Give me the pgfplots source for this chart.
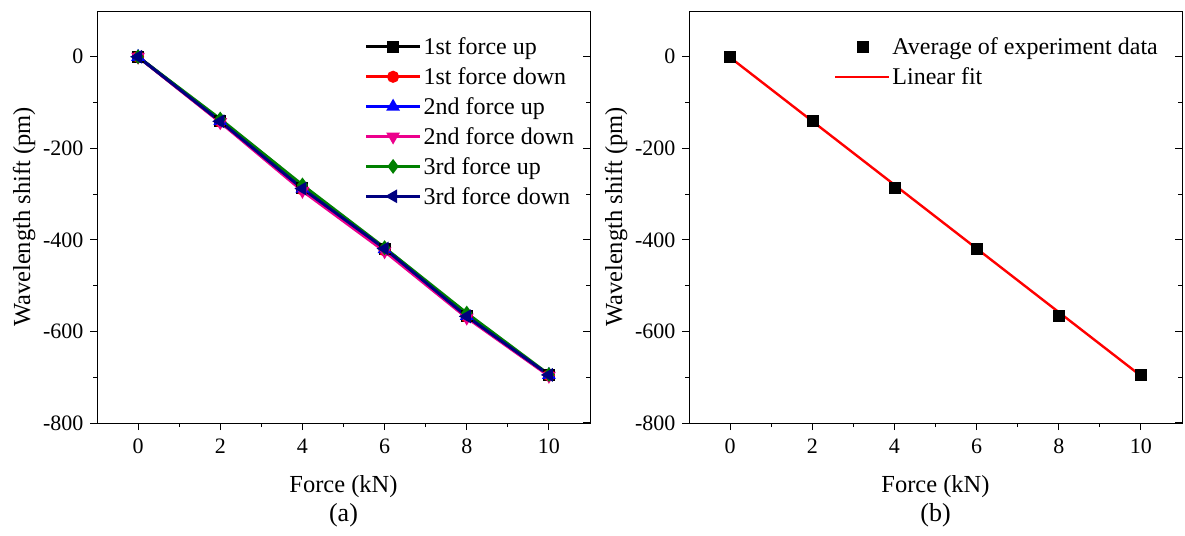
\documentclass[border=0pt]{standalone}
\usepackage{pgfplots}
\pgfplotsset{compat=1.18}
\usepackage{fontspec}
\setmainfont{Liberation Serif}
\definecolor{mygreen}{RGB}{0,128,0}
\definecolor{mynavy}{RGB}{0,0,128}
\pgfplotsset{
  base/.style={
    scale only axis, width=493bp, height=412bp,
    xmin=-1, xmax=11, ymin=-800, ymax=100,
    xtick={0,2,4,6,8,10}, ytick={-800,-600,-400,-200,0},
    minor x tick num=1, minor y tick num=1,
    tick align=outside, xtick pos=bottom, ytick pos=left,
    major tick length=7bp, minor tick length=4bp,
    every tick/.style={black, line width=1bp},
    axis line style={line width=1bp},
    /pgf/number format/assume math mode=true,
    /pgf/number format/.cd, 1000 sep={},
    /pgfplots/.cd,
    ticklabel style={font=\fontsize{22bp}{26bp}\selectfont},
    xticklabel style={yshift=-5bp},
    yticklabel style={xshift=-3bp},
    label style={font=\fontsize{24.5bp}{28bp}\selectfont},
    xlabel={Force (kN)},
    ylabel={Wavelength shift (pm)},
    xlabel style={at={(axis description cs:0.5,-0.155)}, anchor=center},
    ylabel style={at={(axis description cs:-0.148,0.5)}, anchor=center, rotate=0},
    legend style={draw=none, fill=none, font=\fontsize{24bp}{28bp}\selectfont,
      row sep=7.5bp, legend cell align=left, inner sep=0pt, outer sep=0pt},
    clip=false,
  },
  rightticks/.style={
    scale only axis, width=493bp, height=412bp,
    xmin=-1, xmax=11, ymin=-800, ymax=100,
    axis x line=none, axis y line*=right,
    ytick={-800,-600,-400,-200,0}, minor y tick num=1,
    tick align=inside, yticklabels={},
    major tick length=7bp, minor tick length=4bp,
    every tick/.style={black, line width=1bp},
    axis line style={line width=1bp},
  },
  leg/.style={legend image code/.code={%
    \draw[mark repeat=2,mark phase=2] plot coordinates {(0bp,0bp) (27bp,0bp) (54bp,0bp)};}},
}
\begin{document}
\begin{tikzpicture}
\useasboundingbox (0,0) rectangle (1185bp,536bp);
% (a)
\begin{axis}[base, at={(97bp,113bp)}, anchor=south west,
  legend style={at={(axis description cs:0.972,0.94)}, anchor=north east}]
\addplot[black, line width=3bp, mark=square*, mark size=4.5bp, leg] coordinates {(0,0) (2,-140) (4,-287) (6,-420) (8,-567) (10,-695)};
\addlegendentry{1st force up}
\addplot[red, line width=3bp, mark=*, mark size=4.5bp, leg] coordinates {(0,0) (2,-142) (4,-290) (6,-423) (8,-568) (10,-696)};
\addlegendentry{1st force down}
\addplot[blue, line width=3bp, mark=triangle*, mark size=5bp, leg] coordinates {(0,0) (2,-140) (4,-288) (6,-420) (8,-566) (10,-695)};
\addlegendentry{2nd force up}
\addplot[magenta, line width=3bp, mark=triangle*, mark size=5bp, mark options={rotate=180}, leg] coordinates {(0,0) (2,-143) (4,-293) (6,-425) (8,-570) (10,-697)};
\addlegendentry{2nd force down}
\addplot[mygreen, line width=3bp, mark=diamond*, mark size=5bp, leg] coordinates {(0,0) (2,-136) (4,-280) (6,-417) (8,-560) (10,-694)};
\addlegendentry{3rd force up}
\addplot[mynavy, line width=3bp, mark=triangle*, mark size=5bp, mark options={rotate=90}, leg] coordinates {(0,0) (2,-141) (4,-288) (6,-419) (8,-567) (10,-695)};
\addlegendentry{3rd force down}
\node[font=\fontsize{26bp}{30bp}\selectfont] at (axis description cs:0.5,-0.225) {(a)};
\end{axis}
\begin{axis}[rightticks, at={(97bp,113bp)}, anchor=south west]
\end{axis}
% (b)
\begin{axis}[base, at={(689bp,113bp)}, anchor=south west,
  legend style={at={(axis description cs:0.955,0.94)}, anchor=north east}]
\addplot[only marks, black, mark=square*, mark size=5.5bp, leg] coordinates {(0,0) (2,-140) (4,-286) (6,-420) (8,-565) (10,-695)};
\addlegendentry{Average of experiment data}
\addplot[red, line width=2.4bp, leg] coordinates {(0,-1.5) (10,-697)};
\addlegendentry{Linear fit}
\node[font=\fontsize{26bp}{30bp}\selectfont] at (axis description cs:0.5,-0.225) {(b)};
\end{axis}
\begin{axis}[rightticks, at={(689bp,113bp)}, anchor=south west]
\end{axis}
\end{tikzpicture}
\end{document}
